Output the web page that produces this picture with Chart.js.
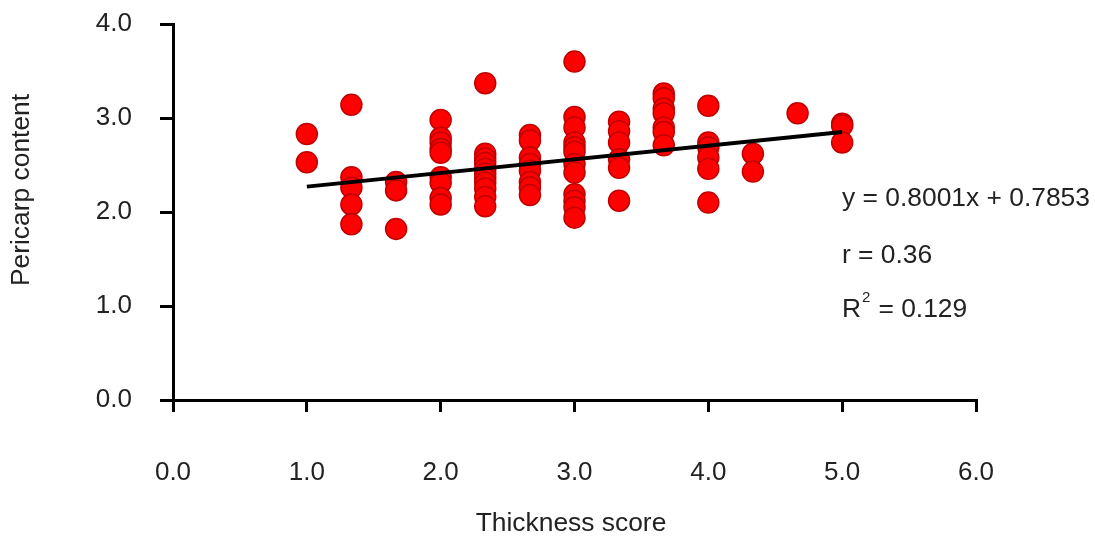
<!DOCTYPE html>
<html>
<head>
<meta charset="utf-8">
<script src="https://cdn.jsdelivr.net/npm/chart.js@4.4.1/dist/chart.umd.min.js"></script>
<style>
  html, body { margin: 0; padding: 0; background: #fff; }
  #wrap { width: 1095px; height: 539px; position: relative; }
</style>
</head>
<body>
<div id="wrap"><canvas id="myChart"></canvas></div>
<script>
// thickness score levels (x) and the pericarp values read at each level (y)
const scoreLevels = [1.0, 1.333, 1.667, 2.0, 2.333, 2.667, 3.0, 3.333, 3.667, 4.0, 4.333, 4.667, 5.0];
const pericarpByScore = [
  [2.83, 2.53],
  [3.14, 2.37, 2.26, 2.08, 1.87],
  [2.32, 2.23, 1.82],
  [2.98, 2.79, 2.74, 2.67, 2.63, 2.37, 2.31, 2.15, 2.08],
  [3.37, 2.62, 2.57, 2.52, 2.46, 2.41, 2.36, 2.31, 2.25, 2.16, 2.06],
  [2.82, 2.76, 2.58, 2.51, 2.44, 2.32, 2.26, 2.18],
  [3.60, 3.01, 2.90, 2.74, 2.69, 2.64, 2.51, 2.42, 2.19, 2.12, 2.05, 1.94],
  [2.96, 2.86, 2.74, 2.56, 2.47, 2.12],
  [3.26, 3.21, 3.10, 3.05, 2.90, 2.85, 2.71],
  [3.13, 2.74, 2.69, 2.58, 2.46, 2.10],
  [2.62, 2.43],
  [3.05],
  [2.94, 2.92, 2.74]
];
// trend line end points
const trendX = [1.0, 5.0];
const trendY = [2.27, 2.85];
const statLines = ["y = 0.8001x + 0.7853", "r = 0.36", "R2 = 0.129"];

const FONT = "'Liberation Sans', Arial, sans-serif";
const TEXT = "#222";

//flatten the groups into scatter points
const points = [];
scoreLevels.forEach((x, i) => {
  for (const y of pericarpByScore[i]) points.push({ x: x, y: y });
});
const trendPoints = trendX.map((x, i) => ({ x: x, y: trendY[i] }));

//titles and the equation text are drawn by hand so they sit where the reference has them
const textPlugin = {
  id: "textPlugin",
  afterDraw(chart) {
    const ctx = chart.ctx;
    ctx.save();
    ctx.fillStyle = TEXT;
    ctx.font = "26.4px " + FONT;
    ctx.textBaseline = "middle";
    ctx.textAlign = "center";
    ctx.fillText("Thickness score", 571, 524);

    ctx.save();
    ctx.translate(22, 190);
    ctx.rotate(-Math.PI / 2);
    ctx.fillText("Pericarp content", 0, 0);
    ctx.restore();

    ctx.textAlign = "left";
    ctx.fillText(statLines[0], 842, 199);
    ctx.fillText(statLines[1], 842, 256);
    // R with superscript 2
    ctx.fillText("R", 842, 310);
    const rw = ctx.measureText("R").width;
    ctx.font = "15px " + FONT;
    ctx.fillText("2", 842 + rw + 1, 298);
    ctx.font = "26.4px " + FONT;
    ctx.fillText(statLines[2].slice(2), 842 + rw + 10, 310);
    ctx.restore();
  }
};

new Chart("myChart", {
  type: "scatter",
  data: {
    datasets: [
      {
        data: points,
        pointRadius: 10.5,
        pointHoverRadius: 10.5,
        backgroundColor: "#ff0000",
        borderColor: "#c00000",
        borderWidth: 1.5,
        order: 1
      },
      {
        type: "line",
        data: trendPoints,
        showLine: true,
        borderColor: "#000",
        borderWidth: 4,
        pointRadius: 0,
        fill: false,
        order: 0
      }
    ]
  },
  options: {
    responsive: true,
    maintainAspectRatio: false,
    animation: false,
    layout: { padding: { top: 24, right: 119, left: 0, bottom: 0 } },
    plugins: { legend: { display: false }, tooltip: { enabled: false } },
    scales: {
      x: {
        type: "linear",
        min: 0,
        max: 6,
        afterFit: (scale) => { scale.height = 139; },
        border: { display: true, color: "#000", width: 3 },
        grid: { display: true, drawOnChartArea: false, drawTicks: true, tickLength: 12, color: "#000", lineWidth: 3 },
        ticks: {
          stepSize: 1,
          padding: 45,
          color: TEXT,
          font: { family: FONT, size: 26 },
          callback: (v) => Number(v).toFixed(1)
        }
      },
      y: {
        type: "linear",
        min: 0,
        max: 4,
        //fixed width, and no extra room above/below for the tick labels
        afterFit: (scale) => {
          scale.width = 173;
          scale.paddingTop = 0;
          scale.paddingBottom = 0;
        },
        border: { display: true, color: "#000", width: 3 },
        grid: { display: true, drawOnChartArea: false, drawTicks: true, tickLength: 13, color: "#000", lineWidth: 3 },
        ticks: {
          stepSize: 1,
          padding: 28,
          color: TEXT,
          font: { family: FONT, size: 26 },
          callback: (v) => Number(v).toFixed(1)
        }
      }
    }
  },
  plugins: [textPlugin]
});
</script>
</body>
</html>
